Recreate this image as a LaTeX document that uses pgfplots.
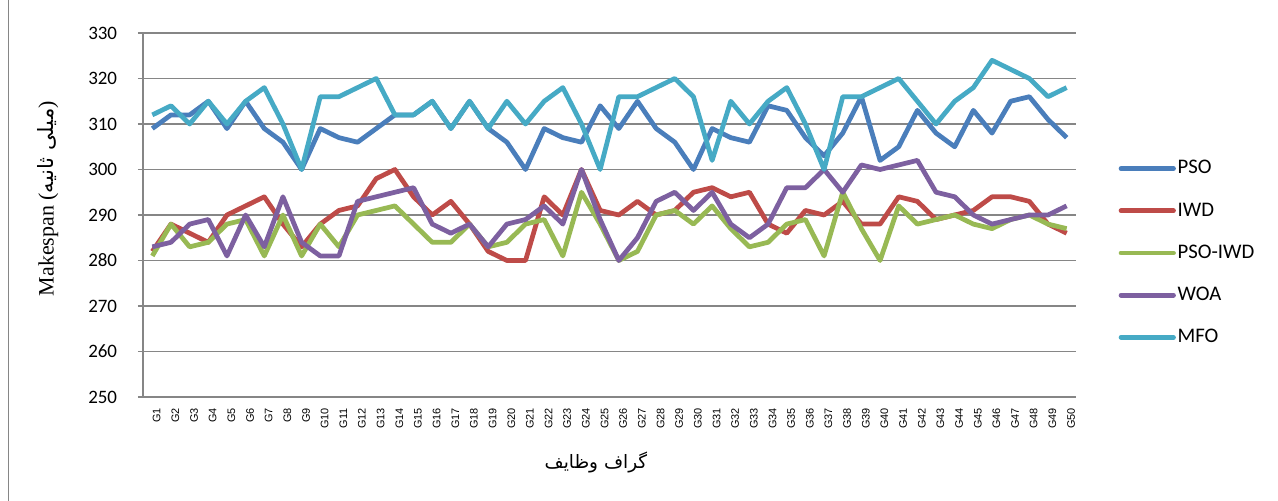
\documentclass[border=0pt]{standalone}
\usepackage{pgfplots}
\pgfplotsset{compat=1.18}
\usepackage{pgfplotstable}
\usepackage{fontspec}
\setmainfont{Carlito}
\newfontfamily\arabicfont[Script=Arabic]{DejaVu Sans}
\newfontfamily\serifont{Liberation Serif}
\newfontfamily\arialfont{Liberation Sans}
\TeXXeTstate=1
\definecolor{cPSO}{HTML}{4A7EBB}
\definecolor{cIWD}{HTML}{BE4B48}
\definecolor{cPI}{HTML}{98B954}
\definecolor{cWOA}{HTML}{7D60A0}
\definecolor{cMFO}{HTML}{46AAC5}
\definecolor{gridgray}{HTML}{868686}

\pgfplotstableread{
x PSO IWD PI WOA MFO
1 309 282 281 283 312
2 312 288 288 284 314
3 312 286 283 288 310
4 315 284 284 289 315
5 309 290 288 281 310
6 315 292 289 290 315
7 309 294 281 283 318
8 306 288 290 294 310
9 300 283 281 284 300
10 309 288 288 281 316
11 307 291 283 281 316
12 306 292 290 293 318
13 309 298 291 294 320
14 312 300 292 295 312
15 312 294 288 296 312
16 315 290 284 288 315
17 309 293 284 286 309
18 315 288 288 288 315
19 309 282 283 283 309
20 306 280 284 288 315
21 300 280 288 289 310
22 309 294 289 292 315
23 307 290 281 288 318
24 306 300 295 300 310
25 314 291 288 289 300
26 309 290 280 280 316
27 315 293 282 285 316
28 309 290 290 293 318
29 306 291 291 295 320
30 300 295 288 291 316
31 309 296 292 295 302
32 307 294 287 288 315
33 306 295 283 285 310
34 314 288 284 288 315
35 313 286 288 296 318
36 307 291 289 296 310
37 303 290 281 300 300
38 308 293 295 295 316
39 316 288 287 301 316
40 302 288 280 300 318
41 305 294 292 301 320
42 313 293 288 302 315
43 308 289 289 295 310
44 305 290 290 294 315
45 313 291 288 290 318
46 308 294 287 288 324
47 315 294 289 289 322
48 316 293 290 290 320
49 311 288 288 290 316
50 307 286 287 292 318
}\data

\begin{document}
\begin{tikzpicture}
\path[use as bounding box] (0,0) rectangle (25.56cm,10.02cm);
\draw[gridgray, line width=0.8pt] (0.165cm,0) -- (0.165cm,10.02cm);
\begin{axis}[
  at={(2.86cm,2.08cm)}, anchor=south west,
  scale only axis, width=18.66cm, height=7.28cm,
  xmin=0.5, xmax=50.5, ymin=250, ymax=330,
  ytick={250,260,...,330},
  xtick={1,...,50},
  xticklabels={G1,G2,G3,G4,G5,G6,G7,G8,G9,G10,G11,G12,G13,G14,G15,G16,G17,G18,G19,G20,G21,G22,G23,G24,G25,G26,G27,G28,G29,G30,G31,G32,G33,G34,G35,G36,G37,G38,G39,G40,G41,G42,G43,G44,G45,G46,G47,G48,G49,G50},
  axis x line*=bottom, axis y line*=left,
  axis line style={draw=gridgray, line width=0.9pt, -},
  ymajorgrids, major grid style={draw=gridgray, line width=0.9pt},
  xtick style={draw=none},
  ytick style={draw=gridgray, line width=0.9pt},
  tick align=outside, major tick length=2.9pt,
  /pgf/number format/assume math mode=true,
  yticklabel style={font=\fontsize{10.8}{12}\selectfont, xshift=-8.3pt},
  xticklabel style={rotate=90, anchor=east, font=\arialfont\fontsize{6.2}{7}\selectfont, yshift=-2.5pt},
  xlabel={\arabicfont\fontsize{10.5}{12}\selectfont\beginR گراف وظایف\endR},
  xlabel style={at={(axis description cs:0.4855,-0.1786)}, anchor=center},
  ylabel={{\serifont\fontsize{12.5}{14}\selectfont Makespan (}{\arabicfont\fontsize{12}{14}\selectfont\beginR میلی ثانیه\endR}{\serifont\fontsize{12.5}{14}\selectfont )}},
  ylabel style={at={(axis description cs:-0.1018,0.545)}, anchor=center},
  clip=false,
  legend style={at={(axis description cs:1.0397,0.667)}, anchor=north west, draw=none, fill=none,
    font=\fontsize{11.8}{13}\selectfont, row sep=12pt,
    nodes={inner sep=1pt, text height=8pt, text depth=2pt}},
  legend cell align=left,
  legend image code/.code={\draw[#1, line cap=round] (0cm,0cm) -- (1.05cm,0cm);},
  every axis plot/.append style={line width=2.7pt, line join=round, no markers},
]
\addplot[cPSO] table[x=x, y=PSO] {\data};
\addlegendentry{PSO}
\addplot[cIWD] table[x=x, y=IWD] {\data};
\addlegendentry{IWD}
\addplot[cPI] table[x=x, y=PI] {\data};
\addlegendentry{PSO-IWD}
\addplot[cWOA] table[x=x, y=WOA] {\data};
\addlegendentry{WOA}
\addplot[cMFO] table[x=x, y=MFO] {\data};
\addlegendentry{MFO}
\end{axis}
\end{tikzpicture}
\end{document}
